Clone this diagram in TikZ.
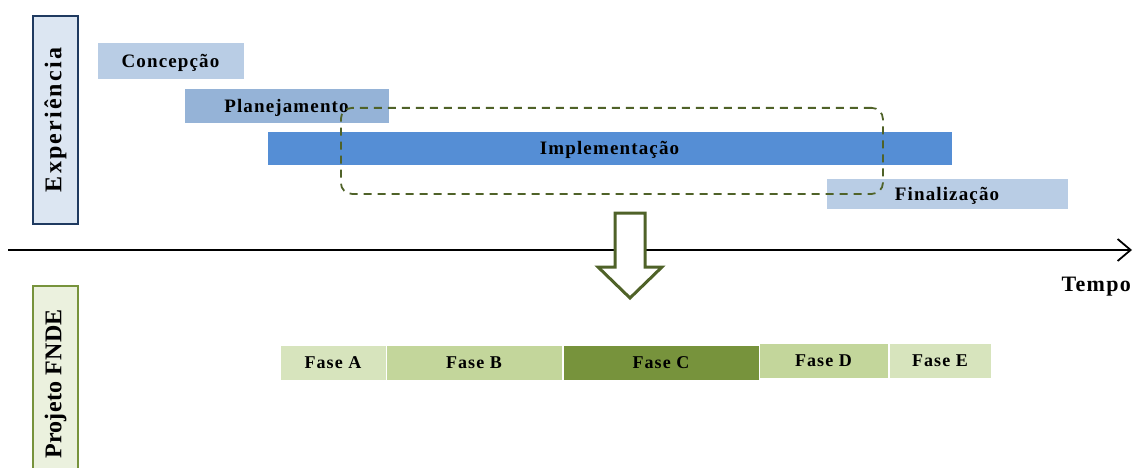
\documentclass[tikz,border=0pt]{standalone}
\usepackage{fontspec}
\setmainfont[LetterSpace=6]{Liberation Serif}
\usetikzlibrary{arrows.meta}
\definecolor{cConc}{HTML}{B9CDE5}
\definecolor{cPlan}{HTML}{95B3D7}
\definecolor{cImpl}{HTML}{558ED5}
\definecolor{cExpFill}{HTML}{DCE6F2}
\definecolor{cExpLine}{HTML}{1F3A60}
\definecolor{cProjFill}{HTML}{EBF1DE}
\definecolor{cProjLine}{HTML}{77933C}
\definecolor{cFaseL}{HTML}{D7E4BD}
\definecolor{cFaseM}{HTML}{C3D69B}
\definecolor{cFaseD}{HTML}{77933C}
\definecolor{cOlive}{HTML}{4F6228}
\tikzset{
  x=1pt, y=-1pt,
  bar/.style={inner sep=0pt, outer sep=0pt, anchor=north west, draw=white, line width=0.8pt, text depth=0pt, font=\fontsize{19}{20}\selectfont\bfseries},
  fasebox/.style={inner sep=0pt, outer sep=0pt, anchor=north west, draw=white, line width=0.8pt, minimum height=35, font=\fontsize{18}{19}\selectfont\bfseries},
  sidelabel/.style={rotate=90, inner sep=0pt, minimum height=45, line width=2pt},
}
\begin{document}
\begin{tikzpicture}
\useasboundingbox (0,0) rectangle (1137,468);
\clip (0,0) rectangle (1137,468);
% side labels
\node[sidelabel, draw=cExpLine, fill=cExpFill, minimum width=208,
      font=\fontsize{24}{26}\selectfont\bfseries\addfontfeatures{LetterSpace=9}] (exp) at (55.5,120) {Experiência};
\node[sidelabel, draw=cProjLine, fill=cProjFill, minimum width=196,
      font=\fontsize{24}{26}\selectfont\bfseries\addfontfeatures{LetterSpace=1}] (proj) at (55.5,384) {Projeto FNDE};
% activity bars
\node[bar, fill=cConc, minimum width=147, minimum height=37] (conc) at (97,42) {Concepção};
\node[bar, fill=cPlan, minimum width=205, minimum height=35] (plan) at (184,88) {Planejamento};
\node[bar, fill=cImpl, minimum width=685, minimum height=34] (impl) at (267,131) {Implementação};
\node[bar, fill=cConc, minimum width=242, minimum height=31] (fin) at (826,178) {Finalização};
% dashed focus frame
\node[draw=cOlive, line width=1.8pt, dash pattern=on 8pt off 6pt, rounded corners=11pt, inner sep=0pt, anchor=north west, minimum width=542, minimum height=86] (focus) at (340,107) {};
% time axis
\coordinate (t0) at (8,250);
\coordinate (t1) at (1132,250);
\draw[line width=1.8pt, -{Straight Barb[length=13pt,width=22pt,line width=1.8pt]}] (t0) -- (t1);
\node[anchor=north east, inner sep=0pt, font=\fontsize{22}{24}\selectfont\bfseries] (tempo) at (1131,277) {Tempo};
% hollow arrow
\draw[cOlive, line width=3pt, fill=white, line join=miter]
  (615,213) -- (645,213) -- (645,267) -- (662,267) -- (630,298) -- (598,267) -- (615,267) -- cycle;
% phases
\node[fasebox, fill=cFaseL, minimum width=106] (fa) at (280,345) {Fase A};
\node[fasebox, fill=cFaseM, minimum width=176] (fb) at (386,345) {Fase B};
\node[fasebox, fill=cFaseD, minimum width=196] (fc) at (563,345) {Fase C};
\node[fasebox, fill=cFaseM, minimum width=129] (fd) at (759,343) {Fase D};
\node[fasebox, fill=cFaseL, minimum width=102] (fe) at (889,343) {Fase E};
\end{tikzpicture}
\end{document}
